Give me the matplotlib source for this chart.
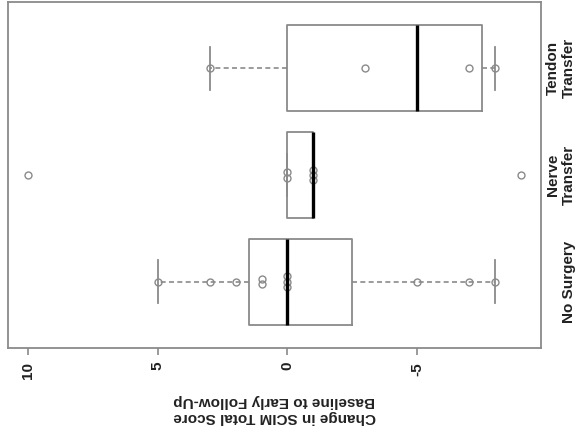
import numpy as np
import matplotlib.pyplot as plt

plt.rcParams['font.family'] = ['Liberation Sans', 'DejaVu Sans']

# Change in SCIM total score, baseline to early follow-up, per group
groups = ["No Surgery", "Nerve\nTransfer", "Tendon\nTransfer"]
no_surgery = [5, 3, 2, 1, 1, 0, 0, 0, -5, -7, -8]
nerve_transfer = [10, 0, 0, -1, -1, -1, -9]
tendon_transfer = [3, -3, -7, -8]
score_ticks = [10, 5, 0, -5]
axis_title = "Change in SCIM Total Score\nBaseline to Early Follow-Up"

GRAY = "#8a8a8a"


def tukey_stats(values, label):
    # hinges as in R's fivenum / boxplot.stats
    v = np.sort(np.asarray(values, dtype=float))
    n = len(v)
    half = (n + 1) // 2
    q1 = np.median(v[:half])
    q3 = np.median(v[n - half:])
    iqr = q3 - q1
    lo, hi = q1 - 1.5 * iqr, q3 + 1.5 * iqr
    inside = v[(v >= lo) & (v <= hi)]
    return dict(label=label, med=np.median(v), q1=q1, q3=q3,
                whislo=inside.min(), whishi=inside.max(),
                fliers=v[(v < lo) | (v > hi)])


data = [no_surgery, nerve_transfer, tendon_transfer]
stats = [tukey_stats(d, g) for d, g in zip(data, groups)]
positions = np.arange(1, len(groups) + 1)

fig = plt.figure(figsize=(5.77, 4.33), dpi=100)
ax = fig.add_axes([8 / 577, 85 / 433, 533 / 577, 346 / 433])

ax.bxp(stats, positions=positions, widths=0.8, orientation='horizontal',
       capwidths=0.4, showfliers=True,
       boxprops=dict(color=GRAY, linewidth=1.3),
       whiskerprops=dict(color=GRAY, linewidth=1.2, linestyle=(0, (3, 2))),
       capprops=dict(color=GRAY, linewidth=1.3),
       medianprops=dict(color='black', linewidth=2.4),
       flierprops=dict(marker='o', markerfacecolor='none',
                       markeredgecolor=GRAY, markersize=5, markeredgewidth=1))

# individual scores over the boxes; repeated values are nudged apart
for pos, d, st in zip(positions, data, stats):
    d = np.asarray(d, dtype=float)
    keep = (d >= st['whislo']) & (d <= st['whishi'])
    pts = d[keep]
    offsets = np.zeros(len(pts))
    for val in np.unique(pts):
        idx = np.where(pts == val)[0]
        offsets[idx] = (np.arange(len(idx)) - (len(idx) - 1) / 2) * 0.05
    ax.plot(pts, pos + offsets, 'o', markerfacecolor='none',
            markeredgecolor=GRAY, markersize=5, markeredgewidth=1)

ax.set_xlim(10.76, -9.76)
ax.set_ylim(0.38, 3.62)

ax.set_xticks(score_ticks)
ax.set_xticklabels([str(t) for t in score_ticks], rotation=90,
                   fontsize=11, fontweight='bold', color='#222222')
ax.tick_params(axis='x', length=5, width=1.2, color=GRAY, pad=5)
ax.set_xlabel(axis_title, rotation=180, fontsize=11, fontweight='bold',
              color='#222222', labelpad=11)

ax.yaxis.tick_right()
ax.set_yticks(positions)
ax.set_yticklabels(groups, rotation=90, ha='right', va='center', ma='center',
                   fontsize=11, fontweight='bold', color='#222222')
ax.tick_params(axis='y', length=0, pad=25)

for sp in ax.spines.values():
    sp.set_color(GRAY)
    sp.set_linewidth(1.3)

fig.savefig("out.png", dpi=100)
